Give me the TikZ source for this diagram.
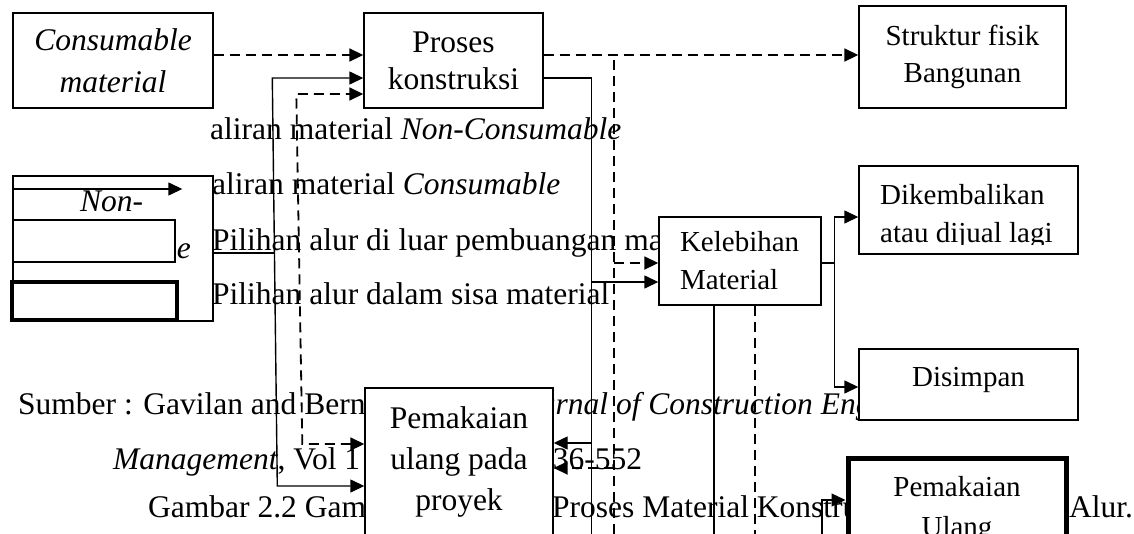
\documentclass[tikz,border=0pt]{standalone}
\usepackage{fontspec}
\setmainfont{Liberation Serif}
\usetikzlibrary{arrows.meta}
\usetikzlibrary{positioning}

\begin{document}
\begin{tikzpicture}[x=1pt, y=-1pt,
    every node/.style={font=\fontsize{31.5}{38}\selectfont, inner sep=0pt},
    >={Triangle[length=14pt,width=13pt]},
    flow/.style={line width=1.4pt},
    dflow/.style={line width=1.8pt, dash pattern=on 10pt off 6pt},
    box/.style={draw, line width=1.4pt, fill=white, align=center},
    thickbox/.style={box, line width=5pt},
    txt/.style={anchor=base west}]
  \useasboundingbox (0,0) rectangle (1134,533);
  \clip (0,0) rectangle (1134,533);

  % legend
  \node[box, minimum width=200pt, minimum height=145pt] (leg) at (113,248.5) {};
  \node[txt] (r1) at (210,139) {aliran material \textit{Non-Consumable}};
  \node[txt] (r2) at (212,194) {aliran material \textit{Consumable}};
  \node[txt] (r3) at (212,250) {Pilihan alur di luar pembuangan ma};
  \node[txt] (r4) at (212,304) {Pilihan alur dalam sisa material};
  \node[txt] (nc1) at (80,211) {\textit{Non-}};
  \node[txt, anchor=base east] (nc2) at (191,258) {\textit{Consumable}};

  % sumber and caption
  \node[txt] (s1) at (18,414) {Sumber : Gavilan and Bern};
  \node[txt] (s2) at (510,414) {\textit{Journal of Construction Engineering}};
  \node[txt] (m1) at (113,469) {\textit{Management}, Vol 1};
  \node[txt] (m2) at (537,469) {536-552};
  \node[txt] (g1) at (148,517) {Gambar 2.2 Gam};
  \node[txt] (g2) at (552,517) {Proses Material Konstruksi};
  \node[txt] (g3) at (1069,517) {Alur.};

  \node[box, minimum width=162pt, minimum height=42pt] (lgn) at (94,241) {};
  \node[box, line width=4.5pt, minimum width=165pt, minimum height=38pt] (lgc) at (94.5,301) {};

  % boxes
  \node[box, minimum width=200pt, minimum height=95pt,
        font=\fontsize{31.5}{42}\selectfont\itshape] (con) at (113,60.5) {Consumable\\material};
  \node[box, minimum width=179pt, minimum height=95pt,
        font=\fontsize{31.5}{37}\selectfont] (pro) at (453.5,60.5) {Proses\\konstruksi};
  \node[box, minimum width=207pt, minimum height=102pt,
        font=\fontsize{29}{37}\selectfont] (str) at (962.5,57) {Struktur fisik\\Bangunan};
  \node[box, minimum width=219pt, minimum height=88pt] (dik) at (968.5,210) {};
  \begin{scope}
    \clip (859,166) rectangle (1078,244);
    \node[anchor=north west, align=left, font=\fontsize{29}{38}\selectfont] (dikt) at (880,184) {Dikembalikan\\atau dijual lagi};
  \end{scope}
  \node[box, align=left, text width=120pt, inner xsep=21pt, minimum height=88pt,
        font=\fontsize{29}{38}\selectfont] (kel) at (740,261) {Kelebihan\\Material};
  \node[box, minimum width=219pt, minimum height=71pt, text depth=15pt,
        font=\fontsize{29}{38}\selectfont] (dis) at (968.5,384.5) {Disimpan};
  \node[box, minimum width=188pt, minimum height=148pt,
        font=\fontsize{31.5}{41}\selectfont] (pup) at (459,462) {Pemakaian\\ulang pada\\proyek};
  \node[thickbox, minimum width=218pt, minimum height=104pt,
        font=\fontsize{29}{40}\selectfont] (pul) at (957,510) {Pemakaian\\Ulang};

  % flows
  \coordinate (bot) at (0,545);
  \draw[dflow,->] ([yshift=5.5pt]con.east) -- ([yshift=5.5pt]pro.west);
  \draw[flow,<->] ([yshift=-24pt]pup.west) -- ([xshift=-87pt,yshift=-24pt]pup.west)
    -- ([xshift=-91pt,yshift=-17.5pt]pro.west) -- ([yshift=-17.5pt]pro.west);
  \draw[dflow,<->] ([yshift=18pt]pup.west) -- ([xshift=-62pt,yshift=18pt]pup.west)
    -- ([xshift=-67pt,yshift=-33.5pt]pro.west) -- ([yshift=-33.5pt]pro.west);
  \draw[dflow,->] ([yshift=5.5pt]pro.east) -- ([yshift=2pt]str.west);

  \coordinate (dsplit) at ([xshift=70pt,yshift=0.5pt]pro.east);
  \draw[dflow] (dsplit) -- (dsplit |- bot);
  \coordinate (kd) at ([yshift=-2pt]kel.west);
  \draw[dflow,->] (dsplit |- kd) -- (kd);
  \coordinate (pd) at ([yshift=-6pt]pup.east);
  \draw[dflow,->] (dsplit |- pd) -- (pd);

  \coordinate (ssplit) at ([xshift=48pt,yshift=-17.5pt]pro.east);
  \draw[flow] ([yshift=-17.5pt]pro.east) -- (ssplit) -- (ssplit |- bot);
  \coordinate (ks) at ([yshift=-21pt]kel.west);
  \draw[flow,->] (ssplit |- ks) -- (ks);
  \coordinate (ps) at ([yshift=19pt]pup.east);
  \draw[flow,->] (ssplit |- ps) -- (ps);

  \coordinate (ksplit) at ([xshift=13pt,yshift=-2pt]kel.east);
  \draw[flow] ([yshift=-2pt]kel.east) -- (ksplit);
  \draw[flow,->] (ksplit) |- ([yshift=-7pt]dik.west);
  \draw[flow,->] (ksplit) |- ([yshift=-2.5pt]dis.west);

  \coordinate (kl) at ([xshift=-26pt]kel.south);
  \draw[flow] (kl) -- (kl |- bot);
  \coordinate (kr) at ([xshift=15pt]kel.south);
  \draw[dflow] (kr) -- (kr |- bot);

  \coordinate (pin) at ([xshift=-23.5pt,yshift=10pt]pul.west);
  \draw[flow,->] (pin |- bot) -- (pin) -- ([yshift=10pt]pul.west);

  % legend lines
  \coordinate (legtip) at ([xshift=170pt,yshift=59.5pt]leg.west);
  \draw[flow,->] ([yshift=59.5pt]leg.west) -- (legtip);
  \coordinate (ulend) at ([xshift=60pt,yshift=-4.5pt]leg.east);
  \draw[flow] ([yshift=-4.5pt]leg.east) -- (ulend);
\end{tikzpicture}
\end{document}
